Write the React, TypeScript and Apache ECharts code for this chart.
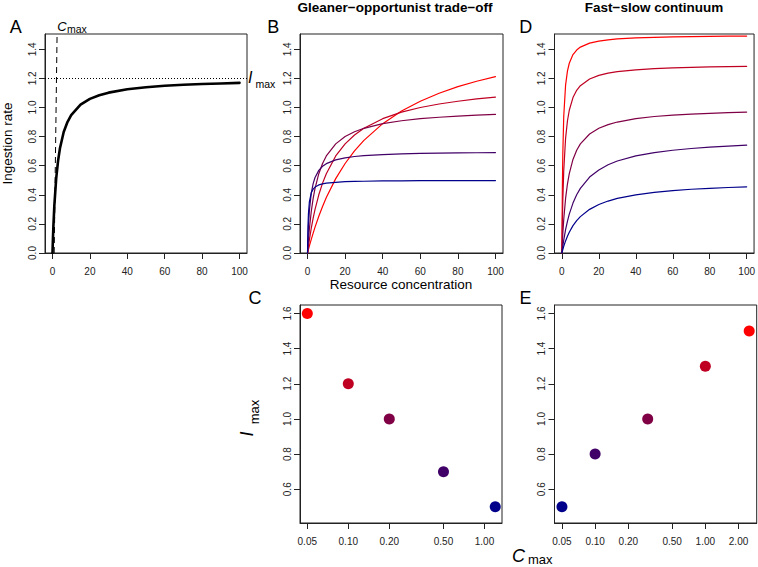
import React, { useEffect, useRef } from 'react';
import * as echarts from 'echarts';

// ---------- data ----------
const resource = [0, 0.25, 0.5, 1, 2, 3, 4, 6, 8, 10, 15, 20, 25, 30, 40, 50, 60, 70, 80, 90, 100];

// Panel A
const ingestionA = [0, 0.103, 0.189, 0.327, 0.514, 0.635, 0.72, 0.831, 0.9, 0.947, 1.019, 1.059, 1.084, 1.102, 1.125, 1.139, 1.149, 1.156, 1.161, 1.165, 1.169];
const imaxLevelA = 1.2;
const cmaxLineR = [0.9, 2.45];
const cmaxLineI = [0, 1.5];

// Panel B (Gleaner-opportunist), red -> blue
const gleanerB1 = [0, 0.012, 0.025, 0.049, 0.094, 0.137, 0.178, 0.253, 0.32, 0.381, 0.511, 0.615, 0.702, 0.774, 0.889, 0.976, 1.043, 1.098, 1.143, 1.18, 1.212];
const gleanerB2 = [0, 0.025, 0.048, 0.092, 0.171, 0.24, 0.3, 0.4, 0.48, 0.545, 0.667, 0.75, 0.811, 0.857, 0.923, 0.968, 1.0, 1.024, 1.043, 1.059, 1.071];
const gleanerB3 = [0, 0.048, 0.091, 0.167, 0.286, 0.375, 0.444, 0.545, 0.615, 0.667, 0.75, 0.8, 0.833, 0.857, 0.889, 0.909, 0.923, 0.933, 0.941, 0.947, 0.952];
const gleanerB4 = [0, 0.106, 0.184, 0.292, 0.412, 0.477, 0.519, 0.568, 0.596, 0.614, 0.64, 0.654, 0.663, 0.669, 0.676, 0.681, 0.684, 0.686, 0.688, 0.689, 0.69];
const gleanerB5 = [0, 0.188, 0.273, 0.353, 0.414, 0.439, 0.453, 0.468, 0.475, 0.48, 0.486, 0.49, 0.492, 0.493, 0.495, 0.496, 0.497, 0.497, 0.497, 0.498, 0.498];

// Panel D (Fast-slow), red -> blue
const fastD1 = [0, 0.441, 0.682, 0.938, 1.154, 1.25, 1.304, 1.364, 1.395, 1.415, 1.442, 1.456, 1.465, 1.471, 1.478, 1.482, 1.485, 1.487, 1.489, 1.49, 1.491];
const fastD2 = [0, 0.21, 0.361, 0.565, 0.788, 0.907, 0.981, 1.068, 1.118, 1.15, 1.196, 1.221, 1.236, 1.246, 1.259, 1.267, 1.272, 1.276, 1.279, 1.281, 1.283];
const fastD3 = [0, 0.07, 0.13, 0.231, 0.375, 0.474, 0.545, 0.643, 0.706, 0.75, 0.818, 0.857, 0.882, 0.9, 0.923, 0.938, 0.947, 0.955, 0.96, 0.964, 0.968];
const fastD4 = [0, 0.024, 0.047, 0.089, 0.16, 0.218, 0.267, 0.343, 0.4, 0.444, 0.522, 0.571, 0.606, 0.632, 0.667, 0.69, 0.706, 0.718, 0.727, 0.735, 0.741];
const fastD5 = [0, 0.012, 0.024, 0.046, 0.083, 0.115, 0.143, 0.188, 0.222, 0.25, 0.3, 0.333, 0.357, 0.375, 0.4, 0.417, 0.429, 0.438, 0.444, 0.45, 0.455];

const palette = ['#FF0000', '#BF0023', '#800046', '#400068', '#00008B'];

// Panel C
const gleanerCmax = [0.05, 0.1, 0.2, 0.5, 1.2];
const gleanerImax = [1.6, 1.2, 1.0, 0.7, 0.5];
const gleanerPointColors = ['#FF0000', '#BF0023', '#800046', '#400068', '#00008B'];
// Panel E
const fastCmax = [0.05, 0.1, 0.3, 1.0, 2.5];
const fastImax = [0.5, 0.8, 1.0, 1.3, 1.5];
const fastPointColors = ['#00008B', '#400068', '#800046', '#BF0023', '#FF0000'];

// ticks
const resourceTicks = [0, 20, 40, 60, 80, 100];
const ingestionTicks = [0, 0.2, 0.4, 0.6, 0.8, 1.0, 1.2, 1.4];
const imaxTicks = [0.6, 0.8, 1.0, 1.2, 1.4, 1.6];
const cmaxTicksC = [0.05, 0.1, 0.2, 0.5, 1.0];
const cmaxTicksE = [0.05, 0.1, 0.2, 0.5, 1.0, 2.0];

const FONT = 'Liberation Sans, Arial, sans-serif';
const INK = '#222';

function boxGrid(left: number, top: number, width: number, height: number) {
  return { left, top, width, height, show: true, borderColor: INK, borderWidth: 1, backgroundColor: 'transparent', containLabel: false };
}

function xAxisLinear(gridIndex: number) {
  return {
    gridIndex, type: 'value', min: -4, max: 104,
    axisLine: { show: true, onZero: false, lineStyle: { color: INK, width: 1 } },
    axisTick: { show: true, inside: false, length: 6, customValues: resourceTicks, lineStyle: { color: INK } },
    axisLabel: { customValues: resourceTicks, margin: 13, fontSize: 10, color: INK, fontFamily: FONT, formatter: (v: number) => String(Math.round(v)) },
    splitLine: { show: false },
  };
}
function yAxisIngestion(gridIndex: number) {
  return {
    gridIndex, type: 'value', min: 0, max: 1.505,
    axisLine: { show: true, onZero: false, lineStyle: { color: INK, width: 1 } },
    axisTick: { show: true, inside: false, length: 6, customValues: ingestionTicks, lineStyle: { color: INK } },
    axisLabel: { customValues: ingestionTicks, rotate: 90, margin: 8, fontSize: 10, color: INK, fontFamily: FONT, formatter: (v: number) => v.toFixed(1) },
    splitLine: { show: false },
  };
}
function xAxisLog(gridIndex: number, min: number, max: number, ticks: number[]) {
  return {
    gridIndex, type: 'log', logBase: 10, min, max,
    axisLine: { show: true, onZero: false, lineStyle: { color: INK, width: 1 } },
    axisTick: { show: true, inside: false, length: 6, customValues: ticks, lineStyle: { color: INK } },
    axisLabel: { customValues: ticks, margin: 13, fontSize: 10, color: INK, fontFamily: FONT, formatter: (v: number) => v.toFixed(2) },
    splitLine: { show: false }, minorTick: { show: false },
  };
}
function yAxisImax(gridIndex: number) {
  return {
    gridIndex, type: 'value', min: 0.408, max: 1.648,
    axisLine: { show: true, onZero: false, lineStyle: { color: INK, width: 1 } },
    axisTick: { show: true, inside: false, length: 6, customValues: imaxTicks, lineStyle: { color: INK } },
    axisLabel: { customValues: imaxTicks, rotate: 90, margin: 8, fontSize: 10, color: INK, fontFamily: FONT, formatter: (v: number) => v.toFixed(1) },
    splitLine: { show: false },
  };
}

function curve(values: number[], axis: number, color: string, width: number) {
  return {
    type: 'line', xAxisIndex: axis, yAxisIndex: axis,
    data: resource.map((r, i) => [r, values[i]]),
    showSymbol: false, symbol: 'none', smooth: false,
    lineStyle: { color, width, join: 'round', cap: 'round' }, clip: true, silent: true,
  };
}

function txt(text: string, x: number, y: number, font: string, align = 'left', rotation = 0) {
  return { type: 'text', x, y, rotation, silent: true, style: { text, font, fill: '#000', textAlign: align, textVerticalAlign: 'middle' } };
}

export default function App() {
  const ref = useRef<HTMLDivElement>(null);
  useEffect(() => {
    if (!ref.current) return;
    const chart = echarts.init(ref.current, undefined, { renderer: 'svg' });
    const gleaner = [gleanerB1, gleanerB2, gleanerB3, gleanerB4, gleanerB5];
    const fast = [fastD1, fastD2, fastD3, fastD4, fastD5];
    const option: any = {
      animation: false,
      backgroundColor: '#fff',
      grid: [
        boxGrid(45, 34, 202, 219),     // A
        boxGrid(300, 34, 203, 219),    // B
        boxGrid(554.5, 34, 202.2, 219),// D
        boxGrid(300, 305, 202, 218),   // C
        boxGrid(554.5, 305, 202.2, 218), // E
      ],
      xAxis: [
        xAxisLinear(0), xAxisLinear(1), xAxisLinear(2),
        xAxisLog(3, 0.0442, 1.345, cmaxTicksC),
        xAxisLog(4, 0.0428, 2.924, cmaxTicksE),
      ],
      yAxis: [yAxisIngestion(0), yAxisIngestion(1), yAxisIngestion(2), yAxisImax(3), yAxisImax(4)],
      series: [
        {
          ...curve(ingestionA, 0, '#000', 2.6),
          markLine: {
            silent: true, symbol: 'none', label: { show: false },
            lineStyle: { color: '#000', type: [1, 2], width: 1 },
            data: [{ yAxis: imaxLevelA }],
          },
        },
        {
          type: 'line', xAxisIndex: 0, yAxisIndex: 0, showSymbol: false, symbol: 'none', silent: true,
          data: cmaxLineR.map((r, i) => [r, cmaxLineI[i]]),
          lineStyle: { color: '#000', width: 1, type: [6, 4] },
        },
        ...gleaner.map((g, i) => curve(g, 1, palette[i], 1.2)),
        ...fast.map((g, i) => curve(g, 2, palette[i], 1.2)),
        {
          type: 'scatter', xAxisIndex: 3, yAxisIndex: 3, symbolSize: 11, silent: true,
          data: gleanerCmax.map((c, i) => ({ value: [c, gleanerImax[i]], itemStyle: { color: gleanerPointColors[i], opacity: 1 } })),
        },
        {
          type: 'scatter', xAxisIndex: 4, yAxisIndex: 4, symbolSize: 11, silent: true,
          data: fastCmax.map((c, i) => ({ value: [c, fastImax[i]], itemStyle: { color: fastPointColors[i], opacity: 1 } })),
        },
      ],
      graphic: [
        txt('A', 15.8, 26.7, `18px ${FONT}`, 'center'),
        txt('B', 273.3, 26.7, `18px ${FONT}`, 'center'),
        txt('D', 525.8, 26.7, `18px ${FONT}`, 'center'),
        txt('C', 255, 298, `18px ${FONT}`, 'center'),
        txt('E', 525.5, 298, `18px ${FONT}`, 'center'),
        txt('Gleaner\u2212opportunist trade\u2212off', 395, 7.5, `bold 13.5px ${FONT}`, 'center'),
        txt('Fast\u2212slow continuum', 654, 7.5, `bold 13.5px ${FONT}`, 'center'),
        txt('Ingestion rate', 7.5, 143.5, `13.5px ${FONT}`, 'center', Math.PI / 2),
        txt('Resource concentration', 401, 284.3, `13.5px ${FONT}`, 'center'),
        // C_max label (panel A)
        txt('C', 57.3, 26, `italic 13px ${FONT}`),
        txt('max', 67, 28.6, `10.5px ${FONT}`),
        // I_max label (panel A)
        txt('I', 248, 77.6, `italic 16px ${FONT}`),
        txt('max', 255.5, 83.5, `10.5px ${FONT}`),
        // I_max rotated (panel C)
        txt('I', 247, 434, `italic 18px ${FONT}`, 'center', Math.PI / 2),
        txt('max', 254, 412, `13px ${FONT}`, 'center', Math.PI / 2),
        // C_max bottom (panel E)
        txt('C', 512, 555.5, `italic 18px ${FONT}`),
        txt('max', 528, 559.5, `13px ${FONT}`),
      ],
    };
    chart.setOption(option);
    return () => chart.dispose();
  }, []);
  return <div ref={ref} style={{ position: 'fixed', left: 0, top: 0, width: 758, height: 567, background: '#fff' }} />;
}
